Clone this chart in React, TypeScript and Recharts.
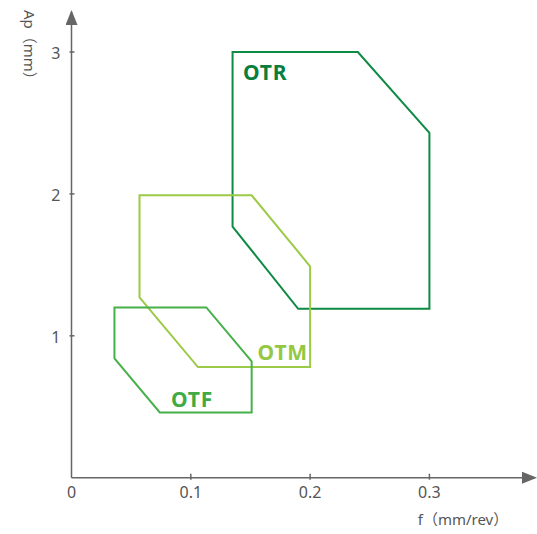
import React from 'react';
import { ScatterChart, Scatter, XAxis, YAxis } from 'recharts';

// feed rate f (mm/rev) / depth of cut Ap (mm), polygon corners, closed
const otrF = [0.135, 0.24, 0.3, 0.3, 0.19, 0.135, 0.135];
const otrAp = [3.0, 3.0, 2.43, 1.19, 1.19, 1.77, 3.0];
const otmF = [0.057, 0.151, 0.2, 0.2, 0.106, 0.057, 0.057];
const otmAp = [1.99, 1.99, 1.49, 0.78, 0.78, 1.27, 1.99];
const otfF = [0.036, 0.113, 0.151, 0.151, 0.074, 0.036, 0.036];
const otfAp = [1.2, 1.2, 0.82, 0.46, 0.46, 0.84, 1.2];

const labelNames = ['OTR', 'OTM', 'OTF'];
const labelF = [0.1437, 0.156, 0.0834];
const labelAp = [2.8, 0.83, 0.5];

const xTicks = [0, 0.1, 0.2, 0.3];
const yTicks = [1, 2, 3];

const FONT = "'Noto Sans', 'Noto Sans CJK SC', sans-serif";
const AXIS = '#666';
const TXT = '#555';

const toPoints = (f: number[], ap: number[]) => f.map((v, i) => ({ f: v, ap: ap[i] }));

const series = [
  { name: 'OTR', color: '#0d8a43', data: toPoints(otrF, otrAp) },
  { name: 'OTM', color: '#9bcb46', data: toPoints(otmF, otmAp) },
  { name: 'OTF', color: '#46b04a', data: toPoints(otfF, otfAp) },
];

const labelColors: Record<string, string> = { OTR: '#0a7f3d', OTM: '#94c843', OTF: '#40ab45' };
const labels = labelNames.map((n, i) => ({ name: n, f: labelF[i], ap: labelAp[i] }));

const XTick = (props: any) => {
  const { x, y, payload } = props;
  const v = payload.value;
  return (
    <g>
      {v !== 0 && <line x1={x} x2={x} y1={y} y2={y - 6} stroke={AXIS} strokeWidth={1.5} />}
      <text x={x} y={y + 18} textAnchor="middle" fontSize={16} fill={TXT} fontFamily={FONT}>
        {v === 0 ? '0' : v}
      </text>
    </g>
  );
};

const YTick = (props: any) => {
  const { x, y, payload } = props;
  return (
    <g>
      <line x1={x} x2={x + 5} y1={y} y2={y} stroke={AXIS} strokeWidth={1.5} />
      <text x={x - 9} y={y + 7} textAnchor="end" fontSize={16} fill={TXT} fontFamily={FONT}>
        {payload.value}
      </text>
    </g>
  );
};

const noDot = () => <g />;

const LabelShape = (props: any) => {
  const { cx, cy, payload } = props;
  return (
    <text x={cx} y={cy} fontSize={21} fontWeight={700} letterSpacing={0.8}
      fill={labelColors[payload.name]} fontFamily={FONT}>
      {payload.name}
    </text>
  );
};

export default function App() {
  return (
    <div style={{ position: 'absolute', left: 0, top: 0, background: '#fff' }}>
      <ScatterChart width={537} height={534} margin={{ top: 12, right: 2, left: 0, bottom: 0 }}>
        <defs>
          <marker id="arrowHead" markerUnits="userSpaceOnUse" markerWidth={15} markerHeight={12}
            viewBox="0 0 15 12" refX={13} refY={6} orient="auto-start-reverse">
            <path d="M0,0 L15,6 L0,12 z" fill={AXIS} />
          </marker>
        </defs>
        <XAxis
          type="number"
          dataKey="f"
          domain={[0, 0.3885]}
          ticks={xTicks}
          interval={0}
          allowDataOverflow
          height={56.3}
          tickSize={0}
          tickLine={false}
          tick={<XTick />}
          axisLine={{ stroke: AXIS, strokeWidth: 1.5, markerEnd: 'url(#arrowHead)' }}
        />
        <YAxis
          type="number"
          dataKey="ap"
          domain={[0, 3.282]}
          ticks={yTicks}
          interval={0}
          allowDataOverflow
          width={71.5}
          tickSize={0}
          tickLine={false}
          tick={<YTick />}
          axisLine={{ stroke: AXIS, strokeWidth: 1.5, markerStart: 'url(#arrowHead)' }}
        />
        {series.map((s) => (
          <Scatter
            key={s.name}
            name={s.name}
            data={s.data}
            shape={noDot}
            line={{ stroke: s.color, strokeWidth: 2, strokeLinejoin: 'miter', strokeLinecap: 'square' }}
            isAnimationActive={false}
          />
        ))}
        <Scatter data={labels} shape={<LabelShape />} isAnimationActive={false} />
        <text transform="translate(24,10) rotate(90)" fontSize={15} fill={TXT} fontFamily={FONT}>
          Ap（mm）
        </text>
        <text x={463} y={525} textAnchor="middle" fontSize={15} fill={TXT} fontFamily={FONT}>
          f（mm/rev）
        </text>
      </ScatterChart>
    </div>
  );
}
